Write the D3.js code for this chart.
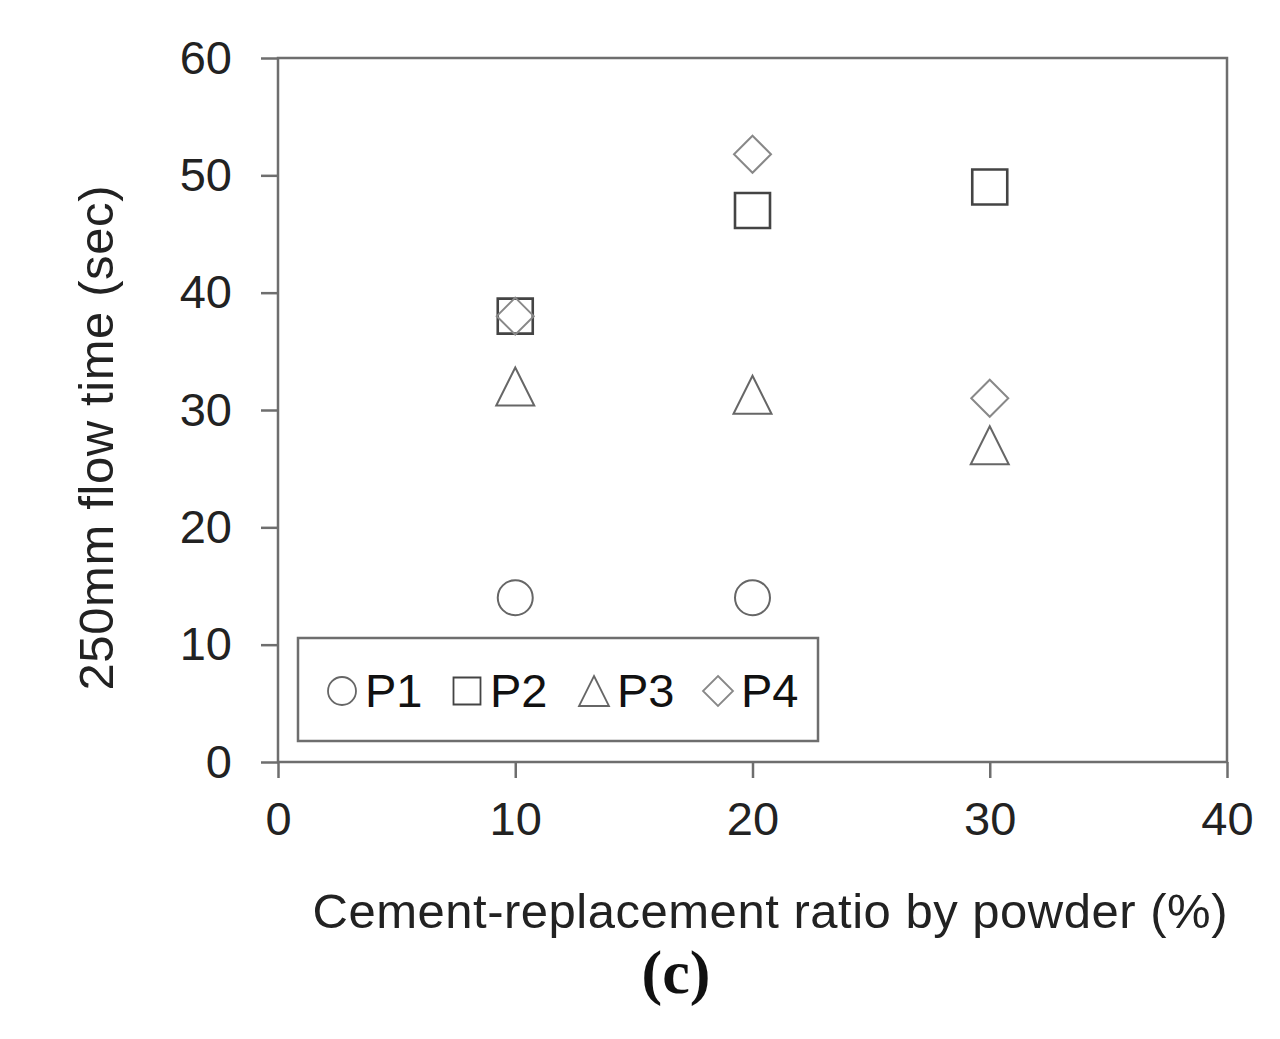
<!DOCTYPE html>
<html><head><meta charset="utf-8">
<script src="https://cdn.jsdelivr.net/npm/d3@7"></script>
<style>body{margin:0;background:#fff}svg{display:block}</style>
</head><body>
<svg id="c" width="1280" height="1039"></svg>
<script>
const xTicks = [0, 10, 20, 30, 40];
const yTicks = [0, 10, 20, 30, 40, 50, 60];
const seriesNames = ["P1", "P2", "P3", "P4"];
const xValues = [10, 20, 30];
const P1 = [14, 14, null];
const P2 = [38, 47, 49];
const P3 = [32, 31.3, 27];
const P4 = [38, 51.8, 31];
const xTitle = "Cement-replacement ratio by powder (%)";
const yTitle = "250mm flow time (sec)";
const caption = "(c)";

const svg = d3.select("#c");
const L = 278, R = 1227, T = 58, B = 762;
const x = d3.scaleLinear().domain([0, 40]).range([L, R]);
const y = d3.scaleLinear().domain([0, 60]).range([B, T]);
const axisColor = "#6e6e6e";
const font = "Liberation Sans, Arial, sans-serif";

// frame
svg.append("rect").attr("x", L).attr("y", T).attr("width", R - L).attr("height", B - T)
  .attr("fill", "none").attr("stroke", axisColor).attr("stroke-width", 2.5);

const yAxis = svg.append("g").attr("transform", `translate(${L},0)`)
  .call(d3.axisLeft(y).tickValues(yTicks).tickSize(17).tickPadding(29));
const xAxis = svg.append("g").attr("transform", `translate(0,${B})`)
  .call(d3.axisBottom(x).tickValues(xTicks).tickSize(16).tickPadding(24));
[yAxis, xAxis].forEach(g => {
  g.select(".domain").remove();
  g.selectAll("line").attr("stroke", axisColor).attr("stroke-width", 2.5);
  g.selectAll("text").attr("font-family", font).attr("font-size", 47).attr("fill", "#222");
});

svg.append("text").attr("x", 770).attr("y", 928).attr("text-anchor", "middle")
  .attr("font-family", font).attr("font-size", 49).attr("fill", "#222")
  .attr("textLength", 915).text(xTitle);
svg.append("text").attr("transform", "translate(113,438) rotate(-90)").attr("text-anchor", "middle")
  .attr("font-family", font).attr("font-size", 49).attr("fill", "#222")
  .attr("textLength", 505).text(yTitle);
svg.append("text").attr("x", 676).attr("y", 993).attr("text-anchor", "middle")
  .attr("font-family", "Liberation Serif, Times New Roman, serif").attr("font-weight", "bold")
  .attr("font-size", 62).attr("fill", "#111").text(caption);

const styles = [
  {stroke: "#666", sw: 2},
  {stroke: "#444", sw: 2.6},
  {stroke: "#666", sw: 2},
  {stroke: "#888", sw: 2}
];
const allSeries = [P1, P2, P3, P4];

function markerPath(i, s) {
  if (i === 2) return `M0,${-s/2}L${s/2},${s/2}L${-s/2},${s/2}Z`;
  if (i === 3) return `M0,${-s/2}L${s/2},0L0,${s/2}L${-s/2},0Z`;
  if (i === 1) return `M${-s/2},${-s/2}h${s}v${s}h${-s}Z`;
  const r = s / 2;
  return `M${r},0A${r},${r} 0 1,1 ${-r},0A${r},${r} 0 1,1 ${r},0Z`;
}
const markerSize = [35, 35, 38, 37];

allSeries.forEach((vals, i) => {
  const pts = xValues.map((xv, j) => ({x: xv, y: vals[j]})).filter(d => d.y != null);
  svg.append("g").selectAll("path").data(pts).join("path")
    .attr("transform", d => `translate(${x(d.x)},${y(d.y)})`)
    .attr("d", markerPath(i, markerSize[i]))
    .attr("fill", "none").attr("stroke", styles[i].stroke).attr("stroke-width", styles[i].sw);
});

// legend
const lg = svg.append("g");
lg.append("rect").attr("x", 298).attr("y", 638).attr("width", 520).attr("height", 103)
  .attr("fill", "#fff").attr("stroke", axisColor).attr("stroke-width", 2.5);
const legX = [342, 467, 594, 718];
const legSize = [28, 27, 30, 30];
seriesNames.forEach((n, i) => {
  lg.append("path").attr("transform", `translate(${legX[i]},${691})`)
    .attr("d", markerPath(i, legSize[i])).attr("fill", "none")
    .attr("stroke", styles[i].stroke).attr("stroke-width", 1.8);
  lg.append("text").attr("x", legX[i] + 23).attr("y", 707).attr("font-family", font)
    .attr("font-size", 47).attr("fill", "#111").text(n);
});
</script>
</body></html>
